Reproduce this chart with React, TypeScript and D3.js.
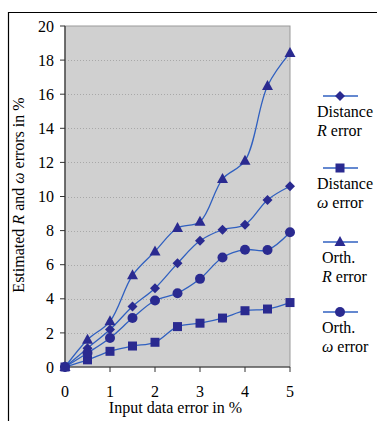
import React from 'react';
import * as d3 from 'd3';

const xValues = [0, 0.5, 1, 1.5, 2, 2.5, 3, 3.5, 4, 4.5, 5];
const distR = [0, 1.1, 2.2, 3.55, 4.62, 6.08, 7.4, 8.05, 8.35, 9.8, 10.6];
const distW = [0, 0.42, 0.92, 1.23, 1.45, 2.37, 2.57, 2.87, 3.3, 3.4, 3.78];
const orthR = [0, 1.6, 2.68, 5.38, 6.78, 8.15, 8.52, 11.02, 12.1, 16.48, 18.42];
const orthW = [0, 0.82, 1.7, 2.87, 3.9, 4.33, 5.17, 6.42, 6.88, 6.86, 7.9];
const xTicks = [0, 1, 2, 3, 4, 5];
const yTicks = [0, 2, 4, 6, 8, 10, 12, 14, 16, 18, 20];

type Series = { key: string; values: number[]; marker: string; line1: string; line2: string };
const series: Series[] = [
  { key: 'distR', values: distR, marker: 'diamond', line1: 'Distance', line2: 'R' },
  { key: 'distW', values: distW, marker: 'square', line1: 'Distance', line2: 'ω' },
  { key: 'orthR', values: orthR, marker: 'triangle', line1: 'Orth.', line2: 'R' },
  { key: 'orthW', values: orthW, marker: 'circle', line1: 'Orth.', line2: 'ω' },
];

const W = 377;
const H = 421;
const plot = { left: 65, top: 26, right: 290, bottom: 367 };
const lineColor = '#3060c0';
const markColor = '#2a2a90';
const font = '"Liberation Serif", "Times New Roman", serif';
const fs = 16;

const Marker: React.FC<{ type: string; x: number; y: number }> = ({ type, x, y }) => {
  if (type === 'diamond') {
    const s = 5;
    return <path d={`M${x},${y - s}L${x + s},${y}L${x},${y + s}L${x - s},${y}Z`} fill={markColor} />;
  }
  if (type === 'square') {
    return <rect x={x - 4.5} y={y - 4.5} width={9} height={9} fill={markColor} />;
  }
  if (type === 'triangle') {
    return <path d={`M${x},${y - 6}L${x + 5.5},${y + 4}L${x - 5.5},${y + 4}Z`} fill={markColor} />;
  }
  return <circle cx={x} cy={y} r={5} fill={markColor} />;
};

export default function App() {
  const x = d3.scaleLinear().domain([0, 5]).range([plot.left, plot.right]);
  const y = d3.scaleLinear().domain([0, 20]).range([plot.bottom, plot.top]);
  const line = d3
    .line<number>()
    .x((d, i) => x(xValues[i]))
    .y((d) => y(d))
    .curve(d3.curveCatmullRom.alpha(0.5));

  const legendY = [96, 168, 242, 312];

  return (
    <div style={{ position: 'absolute', left: 0, top: 0 }}>
      <svg width={W} height={H} style={{ display: 'block', fontFamily: font }}>
        <rect x={0} y={0} width={W} height={H} fill="white" />
        {/* outer frame */}
        <line x1={8} y1={12.5} x2={W} y2={12.5} stroke="#000" strokeWidth={1.2} />
        <line x1={8.5} y1={12} x2={8.5} y2={H} stroke="#000" strokeWidth={1.2} />

        <rect
          x={plot.left}
          y={plot.top}
          width={plot.right - plot.left}
          height={plot.bottom - plot.top}
          fill="#d0d0d0"
          stroke="#999"
          strokeWidth={1}
        />
        {yTicks.slice(1, -1).map((t) => (
          <line
            key={t}
            x1={plot.left}
            x2={plot.right}
            y1={Math.round(y(t)) + 0.5}
            y2={Math.round(y(t)) + 0.5}
            stroke="#a8a8a8"
            strokeDasharray="1,2"
          />
        ))}

        {/* axes */}
        <line x1={plot.left} x2={plot.left} y1={plot.top} y2={plot.bottom} stroke="#333" strokeWidth={1.2} />
        <line x1={plot.left} x2={plot.right} y1={plot.bottom} y2={plot.bottom} stroke="#333" strokeWidth={1.2} />
        {yTicks.map((t) => (
          <g key={t}>
            <line x1={plot.left - 5} x2={plot.left} y1={y(t)} y2={y(t)} stroke="#333" />
            <text x={plot.left - 11} y={y(t)} dy="0.35em" textAnchor="end" fontSize={fs}>
              {t}
            </text>
          </g>
        ))}
        {xTicks.map((t) => (
          <g key={t}>
            <line x1={x(t)} x2={x(t)} y1={plot.bottom} y2={plot.bottom + 5} stroke="#333" />
            <text x={x(t)} y={plot.bottom + 30} textAnchor="middle" fontSize={fs}>
              {t}
            </text>
          </g>
        ))}
        <text x={(plot.left + plot.right) / 2 - 2} y={413} textAnchor="middle" fontSize={fs}>
          Input data error in %
        </text>
        <text transform={`translate(24,195) rotate(-90)`} textAnchor="middle" fontSize={fs}>
          Estimated <tspan fontStyle="italic">R</tspan> and <tspan fontStyle="italic">ω</tspan> errors in %
        </text>

        {/* series */}
        {series.map((s) => (
          <g key={s.key}>
            <path d={line(s.values) ?? ''} fill="none" stroke={lineColor} strokeWidth={1.3} />
            {s.values.map((v, i) => (
              <Marker key={i} type={s.marker} x={x(xValues[i])} y={y(v)} />
            ))}
          </g>
        ))}

        {/* legend */}
        {series.map((s, i) => (
          <g key={s.key} transform={`translate(0,${legendY[i]})`}>
            <line x1={323} x2={358} y1={0} y2={0} stroke={lineColor} strokeWidth={1.3} />
            <Marker type={s.marker} x={340} y={0} />
            <text x={s.line1 === 'Orth.' ? 322 : 317} y={21} fontSize={fs}>
              {s.line1}
            </text>
            <text x={s.line1 === 'Orth.' ? 322 : 317} y={40} fontSize={fs}>
              <tspan fontStyle="italic">{s.line2}</tspan> error
            </text>
          </g>
        ))}
      </svg>
    </div>
  );
}
